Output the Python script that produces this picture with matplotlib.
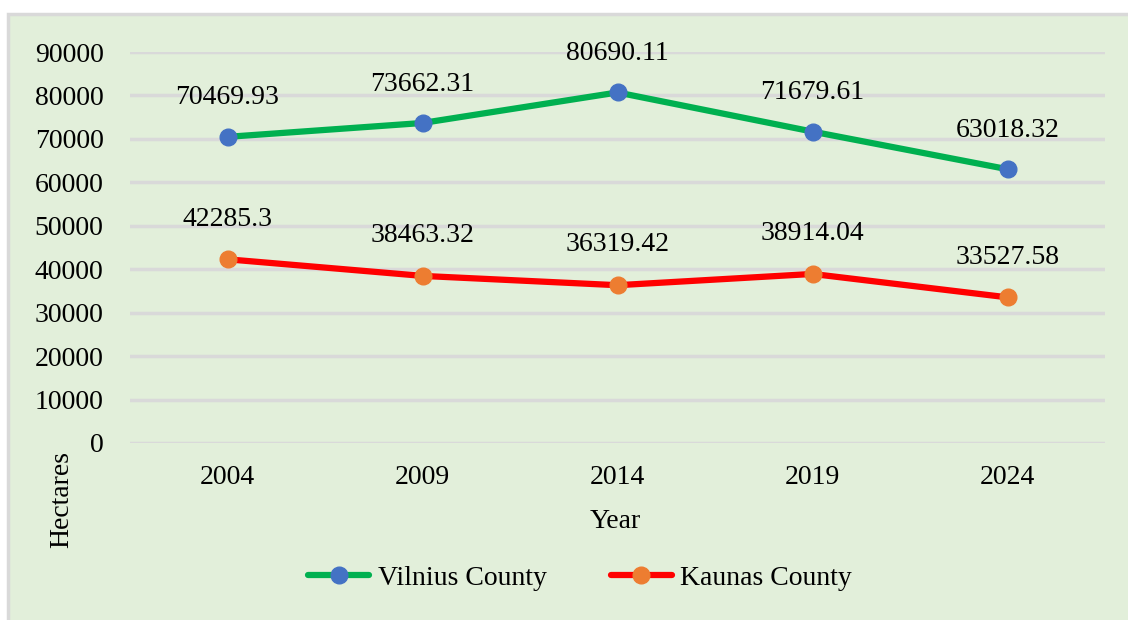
import matplotlib.pyplot as plt
from matplotlib.patches import Rectangle

years = ["2004", "2009", "2014", "2019", "2024"]
vilnius = [70469.93, 73662.31, 80690.11, 71679.61, 63018.32]
kaunas = [42285.3, 38463.32, 36319.42, 38914.04, 33527.58]
vilnius_labels = ["70469.93", "73662.31", "80690.11", "71679.61", "63018.32"]
kaunas_labels = ["42285.3", "38463.32", "36319.42", "38914.04", "33527.58"]
yticks = [0, 10000, 20000, 30000, 40000, 50000, 60000, 70000, 80000, 90000]

plt.rcParams['font.family'] = ['Liberation Serif', 'DejaVu Serif']
bg = '#E2EFDA'
fs = 20

fig = plt.figure(figsize=(11.28, 6.2), dpi=100)
fig.patch.set_facecolor('white')
# chart area background with gray border (right/bottom edges run off the image)
fig.patches.append(Rectangle((8 / 1128, -0.05), 1.05, 1.05 - 14 / 620, transform=fig.transFigure,
                             facecolor=bg, edgecolor='#D9D9D9', linewidth=2.5, zorder=-10))

ax = fig.add_axes([130 / 1128, (620 - 443) / 620, 975 / 1128, 391 / 620])
ax.set_facecolor('none')
x = list(range(len(years)))

ax.plot(x, vilnius, color='#00B050', linewidth=4.5, marker='o', markersize=12,
        markerfacecolor='#4472C4', markeredgecolor='#4472C4', label='Vilnius County', zorder=3,
        solid_capstyle='round')
ax.plot(x, kaunas, color='#FF0000', linewidth=4.5, marker='o', markersize=12,
        markerfacecolor='#ED7D31', markeredgecolor='#ED7D31', label='Kaunas County', zorder=3,
        solid_capstyle='round')

for i, v in enumerate(vilnius):
    ax.annotate(vilnius_labels[i], (i, v), xytext=(0, 28), textcoords='offset points',
                ha='center', va='center', fontsize=fs)
for i, v in enumerate(kaunas):
    ax.annotate(kaunas_labels[i], (i, v), xytext=(0, 29), textcoords='offset points',
                ha='center', va='center', fontsize=fs)

ax.set_xlim(-0.5, 4.5)
ax.set_ylim(0, 90000)
ax.set_xticks(x)
ax.set_xticklabels(years, fontsize=fs)
ax.set_yticks(yticks)
ax.set_yticklabels([str(t) for t in yticks], fontsize=fs)
ax.tick_params(axis='both', length=0)
ax.tick_params(axis='y', pad=19)
ax.tick_params(axis='x', pad=16)
ax.grid(axis='y', color='#D9D9D9', linewidth=2.5)
ax.set_axisbelow(True)
for s in ax.spines.values():
    s.set_visible(False)

fig.text(615 / 1128, 1 - 522 / 620, 'Year', ha='center', va='center', fontsize=fs)
fig.text(62 / 1128, 1 - 500 / 620, 'Hectares', ha='center', va='center', fontsize=fs, rotation=90)

fig.legend(loc='center', bbox_to_anchor=(580 / 1128, 1 - 578 / 620), ncol=2, frameon=False,
           fontsize=fs, handlelength=2.2, columnspacing=2.3, handletextpad=0.3)

fig.savefig('out.png', dpi=100, facecolor=fig.get_facecolor())
